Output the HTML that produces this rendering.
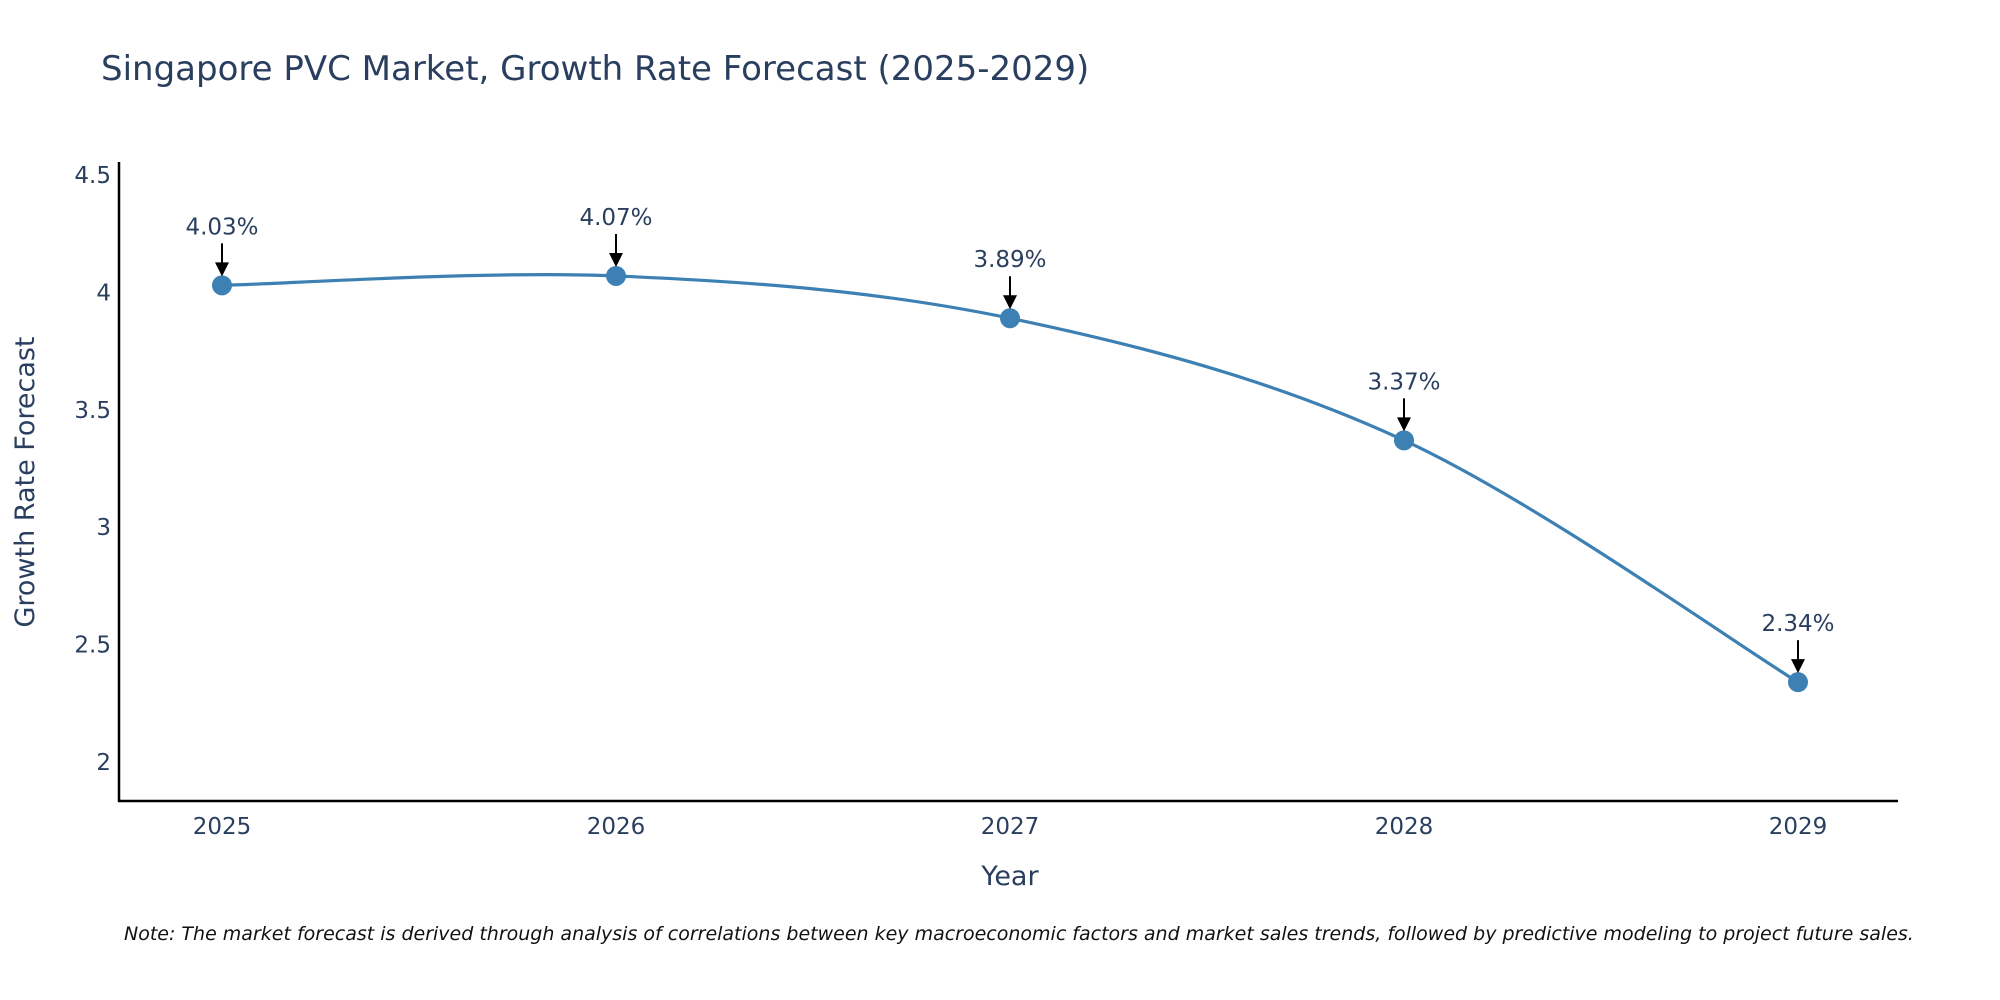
<!DOCTYPE html>
<html><head><meta charset="utf-8"><style>
html,body{margin:0;padding:0;background:#fff;}
svg{display:block;font-family:"DejaVu Sans","Liberation Sans",sans-serif;}
</style></head><body>
<svg id="chart" width="2000" height="1000" viewBox="0 0 2000 1000">
<text x="101" y="80" font-size="34" fill="#2a3f5f">Singapore PVC Market, Growth Rate Forecast (2025-2029)</text>
<g id="axes"></g>
<g id="series"></g>
<text x="1010" y="885" font-size="27" fill="#2a3f5f" text-anchor="middle">Year</text>
<text transform="translate(34,482) rotate(-90)" font-size="27" fill="#2a3f5f" text-anchor="middle">Growth Rate Forecast</text>
<text x="124" y="940" font-size="19" font-style="italic" fill="#111">Note: The market forecast is derived through analysis of correlations between key macroeconomic factors and market sales trends, followed by predictive modeling to project future sales.</text>
</svg>
<script>
const categories=["2025","2026","2027","2028","2029"];
const values=[4.03,4.07,3.89,3.37,2.34];
const valueLabels=["4.03%","4.07%","3.89%","3.37%","2.34%"];
const yTicks=[2,2.5,3,3.5,4,4.5];
const yTickLabels=["2","2.5","3","3.5","4","4.5"];
const NS="http://www.w3.org/2000/svg";
function xs(i){return 222+i*394;}
function ys(v){return 762-(v-2)*234.8;}
function mk(t,a,p){const e=document.createElementNS(NS,t);for(const k in a)e.setAttribute(k,a[k]);p.appendChild(e);return e;}
const ax=document.getElementById('axes'),se=document.getElementById('series');
const yl=mk('line',{x1:119,y1:162,x2:119,y2:802,stroke:'#000','stroke-width':2.5},ax);


const xl=mk('line',{x1:118,y1:801,x2:1898,y2:801,stroke:'#000','stroke-width':2.5},ax);


yTicks.forEach((v,i)=>{const t=mk('text',{x:111,y:ys(v)+8,'font-size':23,fill:'#2a3f5f','text-anchor':'end'},ax);t.textContent=yTickLabels[i];

});
categories.forEach((c,i)=>{const t=mk('text',{x:xs(i),y:834,'font-size':23,fill:'#2a3f5f','text-anchor':'middle'},ax);t.textContent=c;

});
const P=values.map((v,i)=>[xs(i),ys(v)]);
let d=`M${P[0][0]},${P[0][1]}`;const k=1/6;
for(let i=0;i<P.length-1;i++){const p0=P[Math.max(0,i-1)],p1=P[i],p2=P[i+1],p3=P[Math.min(P.length-1,i+2)];
d+=` C${p1[0]+(p2[0]-p0[0])*k},${p1[1]+(p2[1]-p0[1])*k} ${p2[0]-(p3[0]-p1[0])*k},${p2[1]-(p3[1]-p1[1])*k} ${p2[0]},${p2[1]}`;}
const ln=mk('path',{d:d,fill:'none',stroke:'#3d80b3','stroke-width':3.2},se);


P.forEach((p,i)=>{const c=mk('circle',{cx:p[0],cy:p[1],r:10,fill:'#3d80b3'},se);


const a=mk('line',{x1:p[0],y1:p[1]-42,x2:p[0],y2:p[1]-22,stroke:'#000','stroke-width':2},se);


const h=mk('polygon',{points:`${p[0]-7},${p[1]-23} ${p[0]+7},${p[1]-23} ${p[0]},${p[1]-9}`,fill:'#000'},se);


const t=mk('text',{x:p[0],y:p[1]-51,'font-size':23,fill:'#2a3f5f','text-anchor':'middle'},se);t.textContent=valueLabels[i];

});
</script>
</body></html>
